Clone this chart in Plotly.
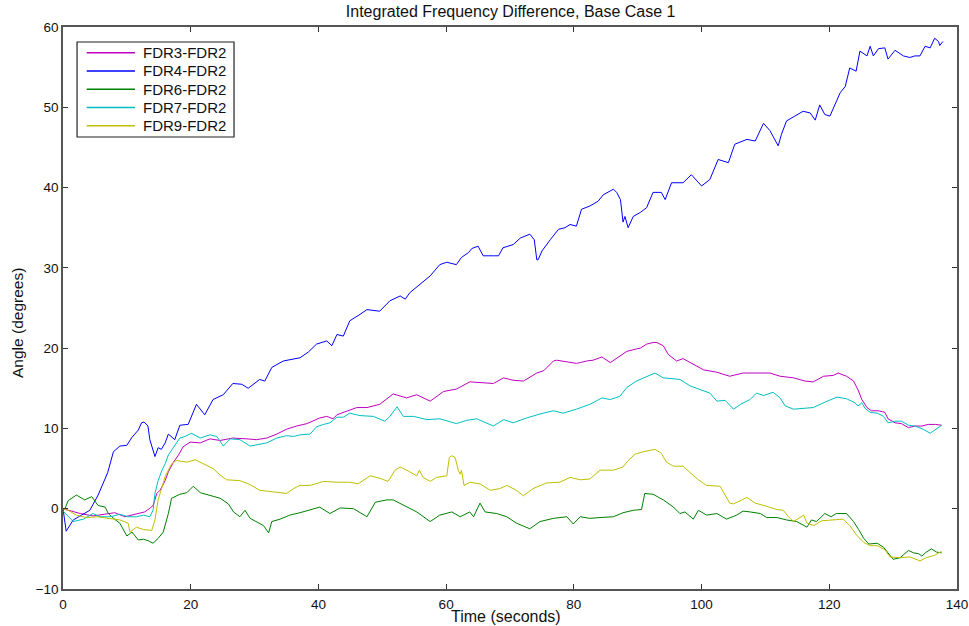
import plotly.graph_objects as go

# ---- data: time (s) and integrated angle difference (deg) per FDR pair ----
t_fdr3 = [0, 2.7, 4.7, 6.8, 8.1, 9.7, 11.5, 12.8, 13.6, 14.1, 14.7, 15.2, 16.0, 16.5, 17.3, 18.1,
          18.8, 19.9, 21.5, 23.0, 24.6, 26.6, 28.8, 30.3, 31.9, 33.5, 35.0, 36.6, 38.2, 39.7, 40.2,
          41.3, 42.3, 42.9, 44.4, 46.0, 47.6, 49.6, 51.7, 53.8, 55.4, 57.5, 59.6, 61.6, 63.7, 65.3,
          67.4, 69.0, 70.5, 72.1, 74.2, 75.3, 76.8, 77.3, 78.9, 80.4, 81.0, 82.0, 83.0, 84.4, 85.7,
          87.2, 88.3, 89.8, 90.4, 91.4, 92.4, 93.0, 94.0, 94.8, 96.1, 97.1, 98.7, 100.3, 102.4,
          104.4, 106.5, 108.6, 110.7, 112.3, 114.4, 116.2, 117.5, 119.1, 120.6, 121.4, 122.7,
          123.8, 124.5, 125.1, 125.9, 126.6, 127.7, 128.7, 129.2, 130.3, 131.3, 132.4, 133.4,
          134.5, 135.5, 136.6, 137.6]
v_fdr3 = [0.0, -0.6, -0.9, -0.6, -0.5, -1.0, -0.6, -0.4, 0.05, 0.4, 1.9, 2.3, 3.5, 4.6, 5.8, 6.7,
          7.7, 8.3, 8.2, 8.7, 8.5, 8.8, 8.7, 8.6, 8.8, 9.3, 9.9, 10.3, 10.6, 11.2, 11.3,
          11.5, 11.2, 11.7, 12.1, 12.6, 12.6, 13.0, 14.3, 13.8, 14.2, 13.4, 14.6, 14.9, 15.8, 15.7,
          15.6, 16.3, 16.0, 15.9, 16.9, 17.2, 18.4, 18.5, 18.3, 18.1, 18.2, 18.4, 18.5, 18.9, 18.2,
          19.0, 19.6, 19.9, 20.0, 20.5, 20.7, 20.7, 20.3, 19.2, 18.4, 18.7, 18.0, 17.3, 17.0,
          16.5, 16.9, 16.9, 16.9, 16.5, 16.3, 15.9, 15.8, 16.5, 16.6, 16.9, 16.5,
          15.9, 14.8, 13.6, 12.6, 12.2, 12.2, 12.0, 11.2, 10.7, 10.6, 10.1, 10.3,
          10.3, 10.5, 10.5, 10.4]

t_fdr4 = [0, 0.5, 1.6, 4.2, 5.5, 7.0, 7.9, 8.9, 10.0, 10.8, 11.8, 12.3, 12.7, 13.3, 13.6, 14.4,
          14.9, 15.4, 16.0, 16.5, 17.5, 18.3, 19.6, 20.9, 22.2, 23.5, 25.1, 26.6, 28.0, 29.0, 30.8,
          31.6, 32.7, 34.5, 37.1, 38.4, 39.7, 41.3, 42.1, 42.9, 43.9, 44.9, 46.5, 47.6, 49.6, 51.2,
          52.8, 53.6, 54.3, 55.9, 57.5, 59.0, 60.1, 61.6, 62.4, 63.5, 64.0, 65.0, 65.8, 67.4, 68.2,
          68.9, 70.5, 71.6, 73.1, 73.8, 74.2, 74.4, 75.0, 76.3, 77.6, 78.6, 79.4, 80.4, 81.2, 82.5,
          83.8, 84.6, 86.2, 86.7, 87.3, 87.7, 88.0, 88.5, 89.3, 90.4, 91.4, 92.4, 93.7, 94.3, 95.3,
          97.1, 98.4, 100.0, 101.3, 102.6, 104.2, 105.2, 107.1, 108.4, 109.7, 110.7, 112.0, 112.5,
          113.3, 114.6, 115.9, 117.0, 117.8, 118.5, 119.3, 120.1, 120.9, 121.7, 122.5, 123.2,
          124.2, 124.8, 125.9, 126.4, 126.9, 127.7, 128.7, 129.2, 130.3, 131.6, 132.6, 133.4,
          134.2, 135.0, 135.8, 136.5, 137.1, 137.3, 137.8]
v_fdr4 = [0.0, -2.8, -1.4, -0.2, 1.7, 4.5, 7.1, 7.8, 7.9, 8.9, 9.8, 10.7, 10.8, 10.3, 8.6, 6.5,
          7.6, 7.4, 8.2, 9.3, 8.6, 10.4, 10.5, 13.0, 11.7, 13.6, 14.2, 15.6, 15.5, 15.0, 16.1,
          15.9, 17.6, 18.4, 18.8, 19.5, 20.5, 20.9, 20.3, 21.7, 21.5, 23.4, 24.2, 24.8, 24.6, 25.9,
          26.5, 26.1, 26.9, 27.9, 29.0, 30.4, 30.7, 30.4, 31.3, 31.9, 32.4, 32.7, 31.5, 31.5, 31.5,
          32.5, 32.9, 33.7, 34.2, 33.5, 31.0, 31.0, 32.1, 33.5, 34.8, 35.0, 35.4, 35.2, 37.3, 37.7,
          38.3, 39.1, 39.8, 39.4, 38.5, 35.7, 36.4, 35.0, 36.4, 36.9, 37.5, 39.4, 39.4, 38.5, 40.6,
          40.6, 41.6, 40.2, 41.0, 43.5, 43.1, 45.4, 46.0, 45.8, 48.0, 47.1, 45.2, 46.6,
          48.3, 48.9, 49.5, 49.3, 48.4, 50.3, 49.1, 48.9, 50.3, 51.8, 52.6, 54.9,
          54.5, 57.0, 56.4, 57.6, 56.4, 57.3, 57.4, 56.0, 57.1, 56.4, 56.2, 56.4,
          56.4, 57.6, 57.4, 58.6, 58.2, 57.7, 58.2]

t_fdr6 = [0, 0.3, 0.8, 2.1, 3.4, 4.5, 5.5, 6.6, 7.1, 7.9, 8.9, 10.0, 10.8, 11.8, 12.6, 13.4, 14.1,
          14.9, 15.7, 16.5, 17.0, 18.3, 19.4, 20.4, 21.5, 23.0, 24.6, 25.9, 26.7, 27.7, 28.5, 29.3,
          30.3, 31.4, 32.2, 32.7, 34.0, 35.5, 37.1, 38.7, 40.2, 41.8, 43.4, 45.5, 47.6, 48.9, 50.7,
          51.7, 53.8, 55.4, 57.5, 59.0, 60.9, 62.2, 63.7, 64.3, 65.3, 66.1, 67.9, 69.5, 71.0, 73.1,
          74.7, 76.8, 78.9, 79.9, 81.0, 82.5, 84.1, 86.2, 87.7, 89.3, 90.6, 91.1, 92.4, 94.0, 95.6,
          96.6, 97.4, 98.7, 99.5, 100.8, 102.4, 103.9, 105.5, 106.5, 107.6, 109.2, 110.2, 111.8,
          113.3, 114.9, 116.5, 117.2, 118.0, 119.3, 120.3, 121.1, 122.7, 123.8, 124.6, 125.4,
          126.2, 127.5, 128.5, 129.3, 130.0, 131.1, 132.4, 133.2, 134.0, 134.5, 135.2, 136.0,
          136.8, 137.6]
v_fdr6 = [0.0, 0.0, 1.0, 1.7, 1.1, 1.5, 0.4, 0.2, -0.6, -1.2, -1.8, -3.4, -2.9, -3.9, -3.8, -4.0, -4.3,
          -3.7, -2.9, -0.6, 1.3, 1.8, 2.0, 2.8, 2.0, 1.7, 1.3, 0.6, -0.4, -1.0, -0.2, -1.2,
          -1.6, -2.1, -3.0, -1.6, -1.3, -0.8, -0.5, -0.1, 0.2, -0.6, 0.1, 0.0, -1.0, 0.8, 1.1,
          1.1, 0.2, -0.4, -1.6, -0.8, -0.4, -1.0, -0.4, -1.0, 0.7, -0.4, -0.6, -1.0, -1.8, -2.5,
          -1.6, -1.2, -1.0, -1.9, -1.0, -1.2, -1.1, -1.0, -0.5, -0.2, -0.1, 1.9, 1.8, 1.1, 0.2,
          -0.6, -0.4, -1.3, -0.2, -0.8, -0.6, -1.3, -0.8, -0.3, -0.4, -0.6, -1.1, -1.1,
          -1.4, -1.6, -2.3, -1.4, -1.6, -0.6, -1.0, -0.6, -0.6, -1.6, -2.6, -3.7,
          -4.4, -4.3, -4.8, -5.6, -6.3, -6.1, -5.2, -5.5, -5.6, -5.9, -5.4, -5.0,
          -5.4, -5.5]

t_fdr7 = [0, 0.6, 1.6, 3.2, 4.7, 5.8, 7.4, 8.9, 10.2, 11.5, 12.6, 13.6, 14.1, 14.4, 14.9, 15.5,
          16.0, 16.5, 17.3, 18.3, 19.1, 20.1, 21.5, 23.0, 24.1, 25.1, 26.2, 27.7, 29.3, 30.8, 31.9,
          33.5, 35.0, 36.1, 37.1, 38.7, 39.7, 40.8, 41.8, 42.9, 43.9, 44.9, 46.5, 48.6, 50.4, 51.2,
          52.3, 53.3, 54.9, 57.0, 59.0, 61.6, 63.2, 64.8, 67.4, 69.0, 70.5, 72.6, 74.7, 76.8, 78.3,
          80.4, 82.5, 84.4, 85.7, 87.2, 88.3, 89.8, 91.4, 92.7, 94.0, 95.6, 96.6, 98.2, 99.8,
          101.3, 102.4, 103.7, 105.0, 106.1, 107.6, 108.6, 109.7, 111.2, 112.3, 113.1, 114.4,
          116.0, 117.5, 119.4, 121.2, 122.7, 124.0, 124.5, 125.1, 125.6, 126.4, 127.5, 128.5,
          129.2, 130.3, 131.3, 132.4, 133.4, 134.7, 135.8, 136.6, 137.6]
v_fdr7 = [-0.3, -0.8, -1.6, -1.3, -0.6, -1.0, -1.0, -0.7, -1.0, -1.0, -0.8, -1.0, -0.2, 1.9, 3.5, 4.8,
          5.6, 6.7, 7.7, 8.8, 9.0, 9.4, 8.8, 9.2, 9.0, 7.8, 8.7, 8.6, 7.8, 8.0, 8.2,
          8.8, 9.1, 9.0, 9.2, 9.3, 10.2, 10.5, 10.7, 11.4, 11.4, 11.9, 11.6, 11.5, 10.9, 11.5,
          12.7, 11.5, 11.5, 11.1, 11.2, 10.6, 11.0, 11.2, 10.3, 11.1, 10.7, 11.3, 11.8, 12.2, 11.9,
          12.4, 13.0, 13.8, 13.6, 14.0, 15.1, 15.9, 16.5, 16.9, 16.3, 16.2, 16.1, 15.3, 14.8,
          14.4, 13.4, 13.5, 12.4, 13.0, 13.6, 14.4, 14.1, 14.5, 13.8, 12.8, 12.4,
          12.5, 12.6, 13.3, 13.9, 13.7, 13.2, 12.8, 13.2, 12.5, 12.0, 11.9, 11.5,
          10.7, 10.9, 10.9, 10.4, 10.3, 9.9, 9.4, 9.8, 10.4]

t_fdr9 = [0, 0.8, 2.1, 3.7, 5.3, 6.8, 7.9, 8.9, 10.2, 10.5, 11.5, 12.6, 13.9, 14.4, 14.9, 15.5,
          16.0, 16.5, 17.0, 17.8, 19.4, 20.7, 22.0, 23.5, 24.6, 25.6, 27.7, 29.3, 30.8, 32.9, 35.0,
          36.1, 37.1, 38.7, 40.8, 42.9, 44.9, 46.2, 48.1, 49.6, 50.9, 52.0, 52.8, 54.3, 55.4, 55.8,
          56.4, 57.5, 58.5, 60.1, 60.5, 60.9, 61.4, 61.9, 62.2, 62.4, 62.8, 63.7, 65.3, 66.9, 68.4,
          69.5, 71.0, 72.1, 73.6, 75.7, 77.8, 79.4, 81.0, 82.5, 84.1, 86.2, 87.7, 88.5, 89.6, 90.9,
          92.7, 93.7, 94.5, 95.6, 97.1, 98.2, 99.5, 100.8, 102.9, 104.4, 105.0, 107.1, 108.4,
          110.2, 111.8, 112.8, 113.6, 114.4, 116.0, 116.5, 117.6, 118.8, 120.6, 122.2, 123.2,
          124.3, 125.4, 126.4, 127.5, 128.7, 129.5, 131.1, 132.6, 134.2, 135.2, 136.5, 137.6]
v_fdr9 = [0.0, -0.2, -0.8, -1.1, -1.0, -1.2, -1.3, -1.4, -1.8, -2.9, -2.3, -2.6, -2.7, -1.4, 1.1, 2.7,
          4.0, 4.8, 5.6, 6.0, 5.8, 6.1, 5.6, 5.0, 4.2, 3.6, 3.5, 3.0, 2.3, 2.1, 1.9,
          2.5, 2.9, 2.9, 3.4, 3.3, 3.3, 3.1, 4.1, 3.8, 3.4, 4.8, 5.2, 4.6, 4.1, 4.8,
          3.9, 3.4, 3.9, 4.1, 6.4, 6.6, 6.4, 4.8, 4.3, 4.8, 2.9, 3.3, 3.1, 2.3, 2.5,
          2.9, 2.3, 1.6, 2.5, 3.2, 3.3, 3.9, 3.6, 3.7, 4.8, 4.8, 5.2, 6.0, 6.8, 7.1,
          7.4, 6.9, 5.8, 5.3, 5.3, 4.5, 3.6, 2.9, 2.8, 0.7, 0.6, 1.4, 0.7,
          0.3, -0.1, -0.2, -1.0, -1.6, -0.8, -1.8, -2.1, -1.5, -1.4, -1.3, -2.1,
          -3.3, -4.2, -4.6, -4.6, -5.1, -6.0, -6.1, -6.0, -6.5, -6.1, -5.8, -5.3]

series_names = ["FDR3-FDR2", "FDR4-FDR2", "FDR6-FDR2", "FDR7-FDR2", "FDR9-FDR2"]
series_t = [t_fdr3, t_fdr4, t_fdr6, t_fdr7, t_fdr9]
series_v = [v_fdr3, v_fdr4, v_fdr6, v_fdr7, v_fdr9]
series_colors = ["#bf00bf", "#0000ff", "#008000", "#00bfbf", "#bfbf00"]

x_ticks = [0, 20, 40, 60, 80, 100, 120, 140]
y_ticks = [-10, 0, 10, 20, 30, 40, 50, 60]

FONT = "Liberation Sans, Arial, sans-serif"

fig = go.Figure()
for name, t, v, c in zip(series_names, series_t, series_v, series_colors):
    fig.add_trace(go.Scatter(x=t, y=v, mode="lines", name=name, showlegend=False,
                             line=dict(color=c, width=1)))

axis_common = dict(
    showgrid=False, zeroline=False, showline=True, linecolor="#555555", linewidth=1.5,
    mirror="ticks", ticks="inside", ticklen=5, tickcolor="#333333", tickwidth=1,
    automargin=False,
    tickfont=dict(family=FONT, size=13.5, color="#111111"),
)

# boxed legend in the upper-left corner of the axes (paper coordinates)
leg_x0, leg_x1 = 0.0157, 0.1913
leg_y0, leg_y1 = 0.8043, 0.9733
line_x0, line_x1, text_x = 0.0265, 0.0805, 0.0872
entry_y0, entry_dy = 0.9543, 0.0325

shapes = [dict(type="rect", xref="paper", yref="paper", x0=leg_x0, x1=leg_x1,
               y0=leg_y0, y1=leg_y1, line=dict(color="#222222", width=1.2),
               fillcolor="white", layer="above")]
annotations = []
for i, (name, c) in enumerate(zip(series_names, series_colors)):
    yy = entry_y0 - i * entry_dy
    shapes.append(dict(type="line", xref="paper", yref="paper", x0=line_x0, x1=line_x1,
                       y0=yy, y1=yy, line=dict(color=c, width=1.6), layer="above"))
    annotations.append(dict(xref="paper", yref="paper", x=text_x, y=yy, text=name,
                            showarrow=False, xanchor="left", yanchor="middle",
                            font=dict(family=FONT, size=15, color="#111111")))

# axis titles
annotations.append(dict(xref="paper", yref="paper", x=0.496, y=-0.0498, text="Time (seconds)",
                        showarrow=False, xanchor="center", yanchor="middle",
                        font=dict(family=FONT, size=16, color="#111111")))
annotations.append(dict(xref="paper", yref="paper", x=-0.0515, y=0.4733, text="Angle (degrees)",
                        showarrow=False, xanchor="center", yanchor="middle", textangle=-90,
                        font=dict(family=FONT, size=15.5, color="#111111")))

fig.update_layout(
    width=969, height=626,
    paper_bgcolor="white", plot_bgcolor="white",
    margin=dict(l=63, r=12, t=27, b=37),
    font=dict(family=FONT, color="#111111"),
    title=dict(text="Integrated Frequency Difference, Base Case 1",
               x=0.527, xanchor="center", y=0.981, yanchor="middle",
               font=dict(size=16)),
    xaxis=dict(range=[0, 140], tickvals=x_ticks, ticklabelstandoff=2, **axis_common),
    yaxis=dict(range=[-10, 60], tickvals=y_ticks, **axis_common),
    shapes=shapes,
    annotations=annotations,
)

fig.write_html("out.html")
